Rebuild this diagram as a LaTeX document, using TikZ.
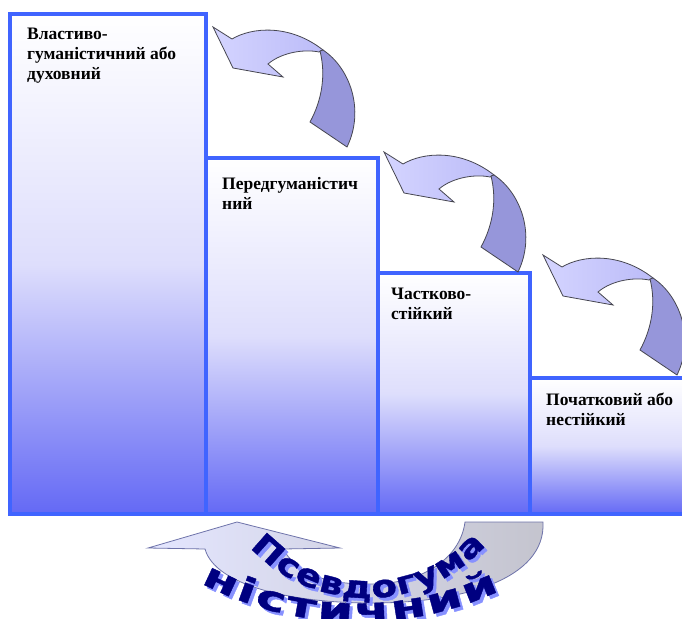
\documentclass[tikz,border=0pt]{standalone}
\usepackage{fontspec}
\setmainfont{Liberation Serif}
\newfontfamily\wordart{DejaVu Sans}[FakeStretch=1.2,BoldFeatures={FakeBold=1.2}]
\newfontfamily\wordartwide{DejaVu Sans}[FakeStretch=1.5,BoldFeatures={FakeBold=1.2}]
\usetikzlibrary{calc,decorations.text}

\definecolor{barblue}{RGB}{64,100,255}
\definecolor{barbottom}{RGB}{100,105,245}
\definecolor{barmid}{RGB}{222,222,252}
\definecolor{bendlight}{RGB}{212,212,255}
\definecolor{benddark}{RGB}{188,188,248}
\definecolor{bendfold}{RGB}{150,150,218}
\definecolor{bendline}{RGB}{70,70,80}
\definecolor{turnleft}{RGB}{228,230,255}
\definecolor{turnright}{RGB}{196,196,206}
\definecolor{turnline}{RGB}{110,115,170}
\definecolor{artnavy}{RGB}{0,0,128}
\definecolor{artshadow}{RGB}{135,145,255}

\begin{document}
\begin{tikzpicture}[x=1pt,y=-1pt,
    stair/.style={draw=barblue,line width=4pt,top color=white,bottom color=barbottom,middle color=barmid,anchor=north west,inner sep=0pt,outer sep=0pt},
    stairtext/.style={anchor=north west,align=left,inner sep=0pt,font=\bfseries\fontsize{17.5}{20}\selectfont},
    bendarrow/.style={draw=bendline,line width=0.8pt,left color=bendlight,right color=benddark},
    bendfold/.style={draw=bendline,line width=0.8pt,fill=bendfold},
    turnarrow/.style={draw=turnline,line width=0.8pt,left color=turnleft,right color=turnright}
  ]
    \useasboundingbox (0,0) rectangle (682,618);

    % Levels - stairs
    \node[stair,minimum width=196pt,minimum height=500pt] (vg) at (10,14) {};
    \node[stair,minimum width=172pt,minimum height=356pt] (pg) at (206,158) {};
    \node[stair,minimum width=152pt,minimum height=241pt] (cs) at (378,273) {};
    \node[stair,minimum width=154pt,minimum height=136pt] (pn) at (530,378) {};

    \node[stairtext] (vgt) at ([shift={(17,14)}]vg.north west) {Властиво-\\гуманістичний або\\духовний};
    \node[stairtext] (pgt) at ([shift={(16,19)}]pg.north west) {Передгуманістич\\ний};
    \node[stairtext] (cst) at ([shift={(13,15)}]cs.north west) {Частково-\\стійкий};
    \node[stairtext] (pnt) at ([shift={(16,15)}]pn.north west) {Початковий або\\нестійкий};

    % Curved arrows between the levels
    \foreach \dx/\dy in {0/0,171/125,330/228} {
      \begin{scope}[shift={(\dx,\dy)}]
        \draw[bendarrow] (213,27) -- (232,39) .. controls (252,27) and (290,24) .. (323,50)
          -- (319,52) .. controls (305,49) and (282,52) .. (268,64)
          -- (283,77) -- (233,68) -- cycle;
        \draw[bendfold] (320,51) -- (323,50) .. controls (350,68) and (365,110) .. (347,147)
          -- (310,122) .. controls (322,100) and (326,75) .. (320,51) -- cycle;
      \end{scope}
    }

    % Turn-back arrow under the stairs
    \draw[turnarrow] (465,522) -- (543,522) .. controls (546,580) and (460,603) .. (372,603)
      .. controls (290,603) and (215,585) .. (205,549)
      -- (148,548) -- (237,522) -- (340,548) -- (283,549)
      .. controls (300,578) and (335,585) .. (375,584)
      .. controls (420,583) and (460,560) .. (465,522) -- cycle;

    % Curved title with shadow
    \coordinate (arc1) at (367,438);
    \coordinate (arc2) at (358,287);
    \foreach \off/\col in {3/artshadow,0/artnavy} {
      \path[decorate,decoration={text along path,text align={fit to path},text color=\col,
          text={|\wordart\bfseries\fontsize{31}{31}\selectfont|Псевдогума}}]
        ($(arc1)+(137:160)+(\off,\off)$) arc[start angle=137,end angle=42,radius=160];
      \path[decorate,decoration={text along path,text align={fit to path},text color=\col,
          text={|\wordartwide\bfseries\fontsize{34}{34}\selectfont|ністичний}}]
        ($(arc2)+(118:335)+(\off,\off)$) arc[start angle=118,end angle=65,radius=335];
    }
\end{tikzpicture}
\end{document}
